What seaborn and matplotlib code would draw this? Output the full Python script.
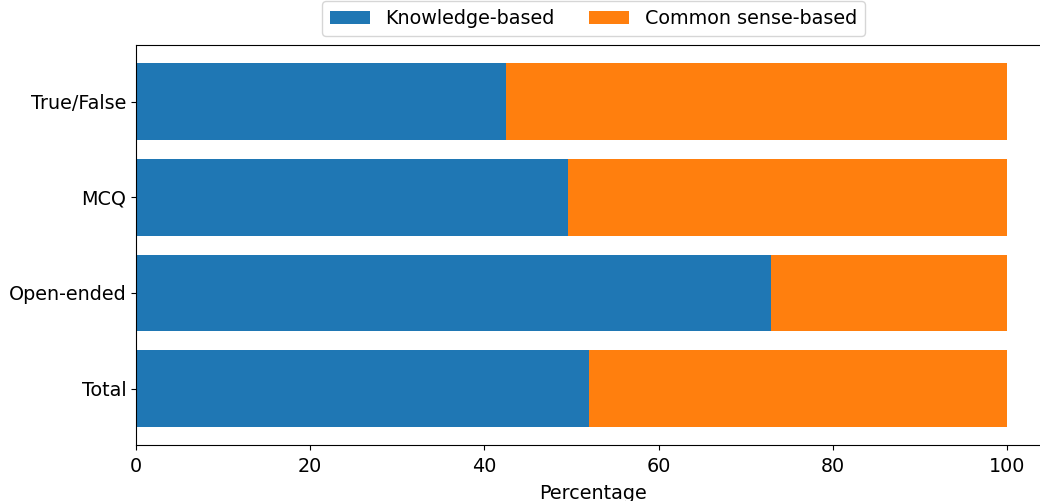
import matplotlib
matplotlib.use("Agg")
import matplotlib.pyplot as plt
import seaborn as sns
import pandas as pd

categories = ["True/False", "MCQ", "Open-ended", "Total"]
knowledge = [42.5, 49.6, 72.9, 52.0]
common_sense = [57.5, 50.4, 27.1, 48.0]

df = pd.DataFrame({"category": categories,
                   "knowledge": knowledge,
                   "common": common_sense})
df["stack"] = df["knowledge"] + df["common"]

plt.rcParams["font.family"] = ["DejaVu Sans"]
plt.rcParams["font.size"] = 13.8

fig = plt.figure(figsize=(10.4, 5.01), dpi=100)
ax = fig.add_axes([0.1308, 0.1118, 0.8794, 0.798])

sns.barplot(data=df, x="stack", y="category", orient="h", color="#ff7f0e",
            width=0.8, saturation=1, label="Common sense-based", ax=ax)
sns.barplot(data=df, x="knowledge", y="category", orient="h", color="#1f77b4",
            width=0.8, saturation=1, label="Knowledge-based", ax=ax)

ax.set_xlim(0, 105)
ax.set_ylim(3.59, -0.59)
ax.set_xticks([0, 20, 40, 60, 80, 100])
ax.tick_params(axis="x", pad=5)
ax.set_xlabel("Percentage", labelpad=6)
ax.set_ylabel("")
ax.spines["right"].set_visible(False)

handles, labels = ax.get_legend_handles_labels()
ax.legend(handles[::-1], labels[::-1], loc="lower center",
          bbox_to_anchor=(0.5, 1.0), ncol=2, handlelength=2.1, columnspacing=1.8)

fig.savefig("out.png", dpi=100)
